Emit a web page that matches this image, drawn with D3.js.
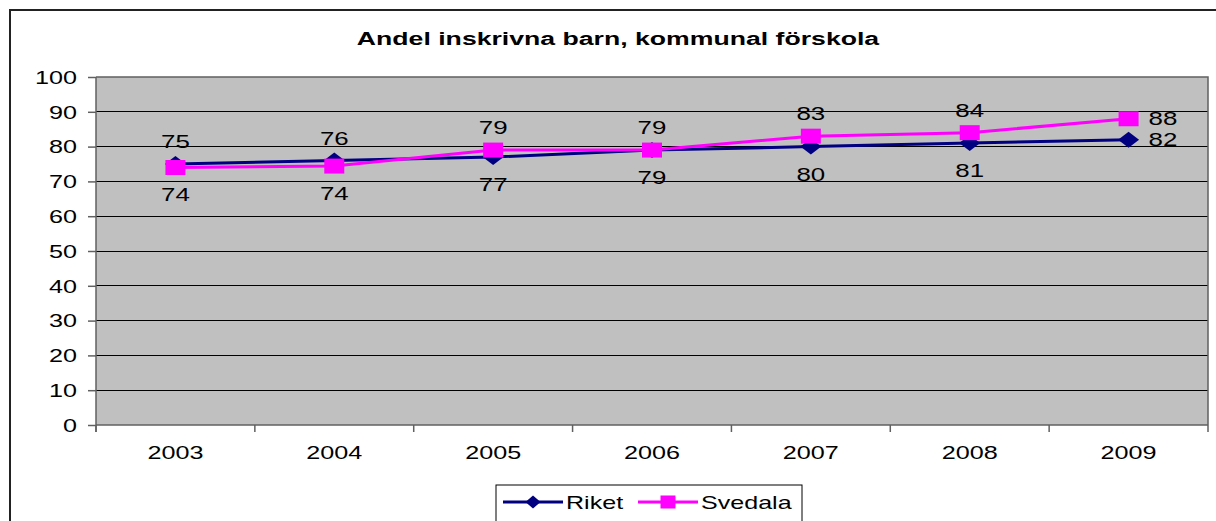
<!DOCTYPE html>
<html>
<head>
<meta charset="utf-8">
<script src="https://cdn.jsdelivr.net/npm/d3@7"></script>
<style>
	body { margin: 0; background: #fff; }
	svg { display: block; font-family: "Liberation Sans", Arial, sans-serif; }
</style>
</head>
<body>
<div id="chart"></div>
<script>
// chart values
var years = ["2003", "2004", "2005", "2006", "2007", "2008", "2009"];
var riket = [75, 76, 77, 79, 80, 81, 82];
var svedala = [74, 74.4, 79, 79, 83, 84, 88];
var yTicks = [0, 10, 20, 30, 40, 50, 60, 70, 80, 90, 100];
var title = "Andel inskrivna barn, kommunal förskola";

// where each data label sits relative to its point
var riketLabelPos = ["above", "above", "below", "below", "below", "below", "right"];
var svedalaLabelPos = ["below", "below", "above", "above", "above", "above", "right"];

var width = 1216, height = 521;
var plot = {left: 96, right: 1208, top: 77, bottom: 425};
var SX = 1.4; // text in the source is stretched sideways

var svg = d3.select("#chart").append("svg")
	.attr("width", width)
	.attr("height", height);

// outer frame, runs off the right/bottom edge like the source
svg.append("rect")
	.attr("x", 10).attr("y", 10)
	.attr("width", 1240).attr("height", 540)
	.attr("fill", "#fff")
	.attr("stroke", "#222")
	.attr("stroke-width", 2);

var x = d3.scaleBand().domain(years).range([plot.left, plot.right]).padding(0);
var y = d3.scaleLinear().domain([0, 100]).range([plot.bottom, plot.top]);

function stretched(sel, fx, fy)
{
	sel.attr("transform", function(d, i){ return "translate(" + fx(d, i) + "," + fy(d, i) + ") scale(" + SX + ",1)"; });
}

// title
svg.append("text")
	.attr("text-anchor", "middle")
	.attr("font-weight", "bold")
	.attr("font-size", 18.5)
	.attr("transform", "translate(618,45) scale(1.44,1)")
	.text(title);

// plot background
svg.append("rect")
	.attr("x", plot.left).attr("y", plot.top)
	.attr("width", plot.right - plot.left).attr("height", plot.bottom - plot.top)
	.attr("fill", "#c0c0c0");

// gridlines
svg.append("g")
	.selectAll("line")
	.data(yTicks.filter(function(t){ return t > 0 && t < 100; }))
	.enter().append("line")
		.attr("x1", plot.left).attr("x2", plot.right)
		.attr("y1", function(d){ return y(d); })
		.attr("y2", function(d){ return y(d); })
		.attr("stroke", "#000")
		.attr("stroke-width", 1)
		.attr("shape-rendering", "crispEdges");

// top + right plot border
svg.append("path")
	.attr("d", "M" + plot.left + "," + y(100) + "H" + plot.right + "V" + plot.bottom)
	.attr("fill", "none")
	.attr("stroke", "#606060")
	.attr("stroke-width", 1.5);

// y axis
var yAxis = svg.append("g")
	.attr("transform", "translate(" + plot.left + ",0)")
	.call(d3.axisLeft(y).tickValues(yTicks).tickSize(8).tickSizeOuter(0).tickPadding(19));
yAxis.select(".domain").attr("stroke", "#606060").attr("stroke-width", 1.5)
	.attr("d", "M0," + plot.top + "V" + (plot.bottom + 7));
yAxis.selectAll(".tick line").attr("stroke", "#606060").attr("stroke-width", 1.5);
yAxis.selectAll(".tick text")
	.attr("font-size", 18)
	.attr("fill", "#000")
	.attr("font-family", "Liberation Sans, Arial, sans-serif")
	.attr("x", null).attr("dy", "0.35em")
	.attr("transform", "translate(-19,0) scale(" + SX + ",1)");

// x axis: ticks sit on the category boundaries
var xAxis = svg.append("g")
	.attr("transform", "translate(0," + plot.bottom + ")");
xAxis.append("line")
	.attr("x1", plot.left).attr("x2", plot.right)
	.attr("stroke", "#606060").attr("stroke-width", 1.5);
xAxis.selectAll(".xtick")
	.data(years.concat(["end"]))
	.enter().append("line")
		.attr("class", "xtick")
		.attr("x1", function(d, i){ return plot.left + i * x.bandwidth(); })
		.attr("x2", function(d, i){ return plot.left + i * x.bandwidth(); })
		.attr("y1", 0).attr("y2", 7)
		.attr("stroke", "#606060").attr("stroke-width", 1.5);
xAxis.selectAll(".xlabel")
	.data(years)
	.enter().append("text")
		.attr("class", "xlabel")
		.attr("text-anchor", "middle")
		.attr("font-size", 18)
		.text(function(d){ return d; })
		.call(stretched, function(d){ return x(d) + x.bandwidth() / 2; }, function(){ return 34; });

// series
var series = [
	{name: "Riket", values: riket, color: "#000080", marker: "diamond", labels: riketLabelPos},
	{name: "Svedala", values: svedala, color: "#ff00ff", marker: "square", labels: svedalaLabelPos}
];

function markerPath(type, w, h)
{
	if (type == "diamond")
		return "M0," + (-h / 2) + "L" + (w / 2) + ",0L0," + (h / 2) + "L" + (-w / 2) + ",0Z";
	return "M" + (-w / 2) + "," + (-h / 2) + "h" + w + "v" + h + "h" + (-w) + "Z";
}

var line = d3.line()
	.x(function(d, i){ return x(years[i]) + x.bandwidth() / 2; })
	.y(function(d){ return y(d); });

series.forEach(function(s)
	{
		var g = svg.append("g").attr("class", "series");
		g.append("path")
			.attr("d", line(s.values))
			.attr("fill", "none")
			.attr("stroke", s.color)
			.attr("stroke-width", 3);
		g.selectAll(".marker")
			.data(s.values)
			.enter().append("path")
				.attr("class", "marker")
				.attr("d", s.marker == "diamond" ? markerPath("diamond", 21, 16) : markerPath("square", 20, 15))
				.attr("fill", s.color)
				.attr("transform", function(d, i){ return "translate(" + (x(years[i]) + x.bandwidth() / 2) + "," + y(d) + ")"; });
	}
);

// data labels on top of both lines
series.forEach(function(s)
	{
		svg.append("g").selectAll("text")
			.data(s.values)
			.enter().append("text")
				.attr("font-size", 18.5)
				.attr("fill", "#000")
				.attr("text-anchor", function(d, i){ return s.labels[i] == "right" ? "start" : "middle"; })
				.attr("dy", function(d, i){ return s.labels[i] == "right" ? "0.35em" : 0; })
				.text(function(d){ return d3.format(".0f")(d); })
				.call(stretched,
					function(d, i){ return x(years[i]) + x.bandwidth() / 2 + (s.labels[i] == "right" ? 20 : 0); },
					function(d, i)
					{
						if (s.labels[i] == "above") return y(d) - 16;
						if (s.labels[i] == "below") return y(d) + 34;
						return y(d);
					});
	}
);

// legend
var legend = svg.append("g");
legend.append("rect")
	.attr("x", 496).attr("y", 485)
	.attr("width", 306).attr("height", 60)
	.attr("fill", "#fff")
	.attr("stroke", "#000")
	.attr("stroke-width", 1);

var legendX = [503, 638];
var legendItems = legend.selectAll(".item")
	.data(series)
	.enter().append("g")
		.attr("class", "item")
		.attr("transform", function(d, i){ return "translate(" + legendX[i] + ",502)"; });
legendItems.append("line")
	.attr("x1", 0).attr("x2", 60)
	.attr("stroke", function(d){ return d.color; })
	.attr("stroke-width", 3);
legendItems.append("path")
	.attr("d", function(d){ return markerPath(d.marker, 15, 13); })
	.attr("fill", function(d){ return d.color; })
	.attr("transform", "translate(30,0)");
legendItems.append("text")
	.attr("font-size", 19)
	.attr("dy", "0.35em")
	.attr("transform", "translate(63,0) scale(1.32,1)")
	.text(function(d){ return d.name; });
</script>
</body>
</html>
